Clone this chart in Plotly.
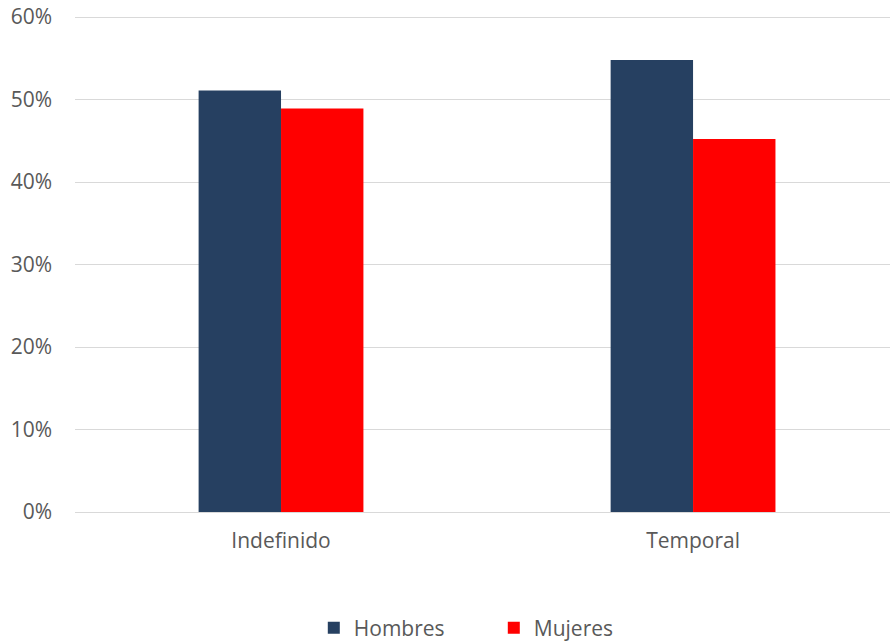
import plotly.graph_objects as go

categories = ["Indefinido", "Temporal"]
hombres = [51.1, 54.8]
mujeres = [48.9, 45.2]
y_ticks = [0, 10, 20, 30, 40, 50, 60]
y_labels = ["0%", "10%", "20%", "30%", "40%", "50%", "60%"]

font_family = "Open Sans, Liberation Sans, sans-serif"
text_color = "#595959"

fig = go.Figure()
fig.add_trace(go.Bar(x=categories, y=hombres, name="Hombres",
                     marker=dict(color="#264061", line=dict(width=0))))
fig.add_trace(go.Bar(x=categories, y=mujeres, name="Mujeres",
                     marker=dict(color="#FF0000", line=dict(width=0))))

fig.update_layout(
    width=890, height=641,
    margin=dict(l=75, r=0, t=0, b=129, autoexpand=False),
    paper_bgcolor="white", plot_bgcolor="white",
    barmode="group", bargap=0.6, bargroupgap=0,
    font=dict(family=font_family, size=21, color=text_color),
    showlegend=True,
    legend=dict(orientation="h", x=0.293, xanchor="left", y=-0.2266, yanchor="middle",
                entrywidth=135, font=dict(size=21, color=text_color)),
    xaxis=dict(range=[-0.5, 1.478], showgrid=False, showline=True, linecolor="#d9d9d9",
               linewidth=1, ticks="", ticklabelstandoff=10, automargin=False),
    yaxis=dict(range=[0, 62.06], tickvals=y_ticks, ticktext=y_labels, showgrid=True,
               gridcolor="#d9d9d9", gridwidth=1, zeroline=False, showline=False,
               ticks="", ticklabelstandoff=22, automargin=False,
               ticklabeloverflow="allow", tickfont=dict(size=21)),
)

# drop the default body margin so the figure sits at the window's corner
fig.write_html("out.html", config={"displayModeBar": False},
               post_script="document.body.style.margin='0';")
